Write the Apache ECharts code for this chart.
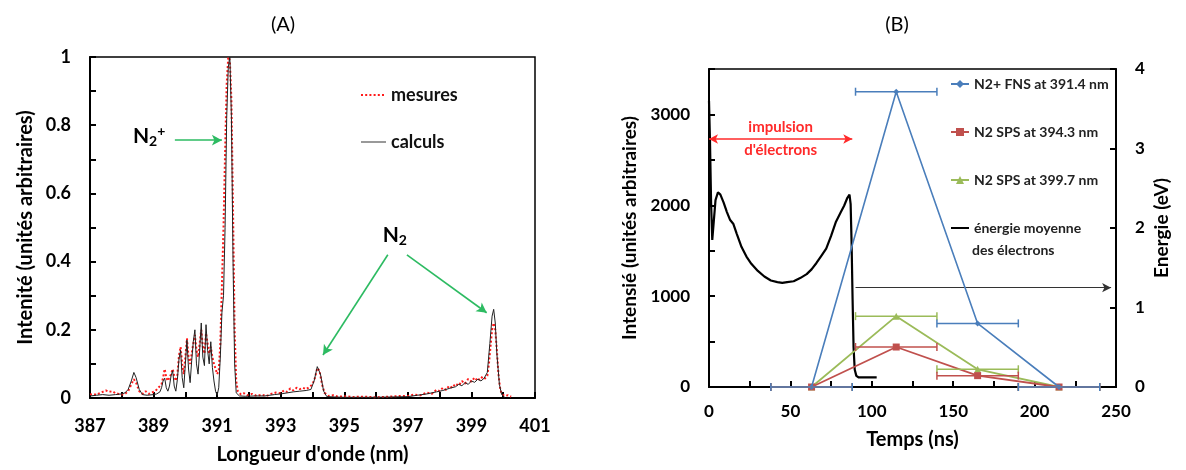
<!DOCTYPE html>
<html>
<head>
<meta charset="utf-8">
<script src="https://cdn.jsdelivr.net/npm/echarts@6/dist/echarts.min.js"></script>
<style>
  html, body { margin: 0; padding: 0; background: #fff; }
  #chart { width: 1186px; height: 470px; }
</style>
</head>
<body>
<div id="chart"></div>
<script>
// ---- (A) emission spectrum: [wavelength nm, relative intensity] ----
const measuredSpectrum = [
  [387.0,0.01],[387.1,0.012],[387.2,0.009],[387.3,0.014],[387.4,0.018],[387.5,0.022],[387.6,0.018],[387.7,0.02],
  [387.8,0.014],[387.9,0.012],[388.0,0.01],[388.1,0.012],[388.2,0.02],[388.3,0.04],[388.38,0.055],[388.45,0.045],
  [388.55,0.02],[388.65,0.012],[388.75,0.02],[388.85,0.012],[388.95,0.016],[389.05,0.02],[389.15,0.03],[389.2,0.035],
  [389.25,0.04],[389.3,0.06],[389.35,0.085],[389.4,0.06],[389.45,0.05],[389.5,0.06],[389.55,0.07],[389.6,0.085],
  [389.65,0.065],[389.7,0.05],[389.75,0.07],[389.8,0.125],[389.85,0.15],[389.9,0.1],[389.95,0.07],[390.0,0.12],
  [390.05,0.175],[390.1,0.12],[390.15,0.1],[390.2,0.13],[390.25,0.16],[390.3,0.185],[390.35,0.14],[390.4,0.12],
  [390.45,0.16],[390.5,0.2],[390.55,0.15],[390.6,0.13],[390.65,0.19],[390.7,0.16],[390.75,0.13],[390.8,0.15],
  [390.85,0.12],[390.9,0.1],[390.95,0.085],[391.0,0.07],[391.05,0.08],[391.1,0.16],[391.15,0.33],[391.2,0.5],
  [391.25,0.72],[391.3,0.92],[391.35,1.0],[391.4,0.99],[391.45,0.87],[391.5,0.55],[391.55,0.2],[391.6,0.05],
  [391.65,0.02],[391.75,0.01],[391.85,0.014],[391.95,0.008],[392.1,0.012],[392.25,0.006],[392.4,0.01],[392.55,0.006],
  [392.7,0.012],[392.85,0.016],[393.0,0.014],[393.1,0.022],[393.2,0.018],[393.3,0.028],[393.4,0.022],[393.5,0.03],
  [393.6,0.026],[393.7,0.03],[393.8,0.026],[393.9,0.032],[394.0,0.04],[394.08,0.06],[394.15,0.088],[394.22,0.08],
  [394.3,0.04],[394.38,0.015],[394.5,0.006],[394.65,0.008],[394.8,0.004],[395.0,0.005],[395.3,0.003],[395.6,0.004],
  [396.0,0.002],[396.4,0.004],[396.8,0.006],[397.0,0.006],[397.2,0.01],[397.4,0.008],[397.6,0.016],[397.75,0.012],
  [397.9,0.024],[398.0,0.02],[398.1,0.03],[398.2,0.024],[398.3,0.036],[398.4,0.03],[398.5,0.042],[398.6,0.036],
  [398.7,0.05],[398.8,0.042],[398.9,0.056],[399.0,0.048],[399.1,0.06],[399.2,0.05],[399.3,0.062],[399.4,0.055],
  [399.5,0.065],[399.55,0.1],[399.6,0.15],[399.65,0.2],[399.7,0.22],[399.75,0.2],[399.8,0.14],[399.85,0.07],
  [399.9,0.03],[399.95,0.012],[400.05,0.006],[400.15,0.008],[400.25,0.004]
];
const calculatedSpectrum = [
  [387.0,0.006],[387.2,0.008],[387.4,0.01],[387.6,0.008],[387.8,0.01],[388.0,0.012],[388.1,0.015],[388.2,0.025],
  [388.3,0.05],[388.38,0.075],[388.45,0.06],[388.55,0.025],[388.65,0.01],[388.8,0.008],[389.0,0.01],[389.1,0.012],
  [389.2,0.018],[389.25,0.03],[389.3,0.05],[389.35,0.058],[389.4,0.03],[389.45,0.02],[389.5,0.035],[389.55,0.065],
  [389.6,0.08],[389.65,0.035],[389.7,0.02],[389.75,0.055],[389.8,0.115],[389.85,0.14],[389.9,0.06],[389.95,0.03],
  [390.0,0.1],[390.05,0.17],[390.1,0.085],[390.15,0.045],[390.2,0.11],[390.25,0.165],[390.3,0.2],[390.35,0.1],
  [390.4,0.07],[390.45,0.14],[390.5,0.22],[390.55,0.12],[390.6,0.095],[390.65,0.215],[390.7,0.14],[390.75,0.1],
  [390.8,0.165],[390.85,0.09],[390.9,0.05],[390.95,0.02],[391.0,0.008],[391.05,0.03],[391.1,0.12],[391.15,0.25],
  [391.2,0.3],[391.25,0.5],[391.3,0.82],[391.35,0.97],[391.4,1.0],[391.45,0.82],[391.5,0.4],[391.55,0.1],
  [391.6,0.015],[391.7,0.006],[391.9,0.005],[392.2,0.006],[392.5,0.006],[392.8,0.01],[393.0,0.012],[393.2,0.015],
  [393.4,0.018],[393.6,0.02],[393.8,0.022],[393.95,0.025],[394.05,0.05],[394.15,0.092],[394.25,0.07],[394.35,0.02],
  [394.45,0.004],[394.7,0.003],[395.0,0.002],[395.5,0.002],[396.0,0.002],[396.5,0.003],[397.0,0.004],[397.3,0.008],
  [397.6,0.012],[397.9,0.018],[398.1,0.022],[398.3,0.028],[398.5,0.033],[398.6,0.04],[398.7,0.036],[398.8,0.045],
  [398.9,0.04],[399.0,0.05],[399.1,0.046],[399.2,0.055],[399.3,0.05],[399.4,0.058],[399.5,0.075],[399.58,0.16],
  [399.65,0.24],[399.7,0.26],[399.75,0.22],[399.8,0.13],[399.88,0.04],[399.95,0.01],[400.05,0.002]
];

// ---- (B) time-resolved intensities (ns, a.u.) and mean electron energy (eV) ----
const timeNs = [63, 115, 165, 215];
const fnsN2Plus3914 = [0, 3250, 700, 0];
const spsN2_3943 = [0, 440, 125, 0];
const spsN2_3997 = [0, 780, 195, 0];
const timeHalfWidthNs = 25;

const energyTimeNs = [0, 0.6, 1.3, 2, 3, 4, 5.5, 7, 9, 11, 13, 15, 17, 20, 23, 26, 30, 34, 38, 42,
  45, 48, 52, 56, 60, 63, 66, 69, 72, 75, 78, 81, 83, 85, 86.3, 87, 87.6, 88.2, 88.8, 89.5,
  90.5, 92, 96, 103];
const energyEv = [3.6, 3.1, 2.3, 1.85, 2.1, 2.35, 2.45, 2.42, 2.32, 2.2, 2.1, 2.05, 1.93, 1.76, 1.64, 1.55, 1.46, 1.39, 1.34, 1.32,
  1.31, 1.32, 1.33, 1.37, 1.42, 1.48, 1.56, 1.65, 1.74, 1.9, 2.08, 2.2, 2.28, 2.38, 2.42, 2.3, 1.8, 1.1, 0.5, 0.22,
  0.14, 0.12, 0.12, 0.12];

// electron pulse window (ns) and the energy-axis pointer
const electronPulseNs = [0, 88];
const electronPulseLevel = 2730;
const energyPointerNs = [90, 247];
const energyPointerEv = 1.25;

const FONT = 'Lato, "Open Sans", sans-serif';
const GREEN = '#2dbb62';
const BLUE = '#4a7ebb';
const RED = '#c0504d';
const OLIVE = '#9bbb59';

const zip = (xs, ys) => xs.map((x, i) => [x, ys[i]]);
const withErr = (xs, ys) => xs.map((x, i) => [x, ys[i], x - timeHalfWidthNs, x + timeHalfWidthNs]);

function drawErrorBar(params, api) {
  const y = api.value(1);
  const a = api.coord([api.value(2), y]);
  const b = api.coord([api.value(3), y]);
  const color = api.visual('color');
  const cap = 4;
  const st = { stroke: color, lineWidth: 1.5 };
  return {
    type: 'group',
    children: [
      { type: 'line', shape: { x1: a[0], y1: a[1], x2: b[0], y2: b[1] }, style: st },
      { type: 'line', shape: { x1: a[0], y1: a[1] - cap, x2: a[0], y2: a[1] + cap }, style: st },
      { type: 'line', shape: { x1: b[0], y1: b[1] - cap, x2: b[0], y2: b[1] + cap }, style: st }
    ]
  };
}

const axisLineStyle = { color: '#000', width: 2 };
const tickLabel = (size) => ({ fontSize: size, fontWeight: 'bold', color: '#000', fontFamily: FONT });
const axisName = (size) => ({ fontSize: size, fontWeight: 'bold', color: '#000', fontFamily: FONT });
// plain line icon in the legend (no marker)
const lineOnly = { opacity: 0, borderWidth: 0 };

const chart = echarts.init(document.getElementById('chart'), null, { renderer: 'canvas' });

chart.setOption({
  animation: false,
  backgroundColor: '#fff',
  textStyle: { fontFamily: FONT },
  grid: [
    { left: 90, top: 57, width: 445, height: 341, show: true, borderColor: '#000', borderWidth: 1.5,
      backgroundColor: 'transparent', containLabel: false, outerBoundsMode: 'none' },
    { left: 709, top: 69, width: 407, height: 318, show: true, borderColor: '#000', borderWidth: 1.5,
      backgroundColor: 'transparent', containLabel: false, outerBoundsMode: 'none' }
  ],
  legend: [
    {
      left: 360, top: 85, orient: 'vertical', padding: 0, itemGap: 27,
      itemWidth: 25, itemHeight: 14, selectedMode: false,
      textStyle: { fontSize: 18, fontWeight: 'bold', color: '#111', fontFamily: FONT, lineHeight: 20 },
      data: [
        { name: 'mesures', itemStyle: lineOnly },
        { name: 'calculs', itemStyle: lineOnly, lineStyle: { color: '#999', width: 2 } }
      ]
    },
    {
      left: 950, top: 76, orient: 'vertical', padding: 0, itemGap: 32,
      itemWidth: 18, itemHeight: 10, selectedMode: false,
      textStyle: { fontSize: 14, fontWeight: 'bold', color: '#222', fontFamily: FONT, lineHeight: 16 },
      data: [
        { name: 'N2+ FNS at 391.4 nm' },
        { name: 'N2 SPS at 394.3 nm' },
        { name: 'N2 SPS at 399.7 nm' },
        { name: 'énergie moyenne', itemStyle: lineOnly }
      ]
    }
  ],
  xAxis: [
    {
      gridIndex: 0, type: 'value', min: 387, max: 401, interval: 1,
      axisLine: { show: true, onZero: false, lineStyle: axisLineStyle },
      axisTick: { show: true, inside: true, length: 6, lineStyle: { color: '#000', width: 2 } },
      axisLabel: Object.assign(tickLabel(18), { margin: 19,
        formatter: (v) => (Math.round(v) % 2 === 1 ? String(Math.round(v)) : '') }),
      splitLine: { show: false },
      name: "Longueur d'onde (nm)", nameLocation: 'middle', nameGap: 47, nameMoveOverlap: false,
      nameTextStyle: axisName(20)
    },
    {
      gridIndex: 1, type: 'value', min: 0, max: 250, interval: 25,
      axisLine: { show: true, onZero: false, lineStyle: axisLineStyle },
      axisTick: { show: true, inside: true, length: 6, lineStyle: { color: '#000', width: 2 } },
      axisLabel: Object.assign(tickLabel(17), { margin: 16,
        formatter: (v) => (v % 50 === 0 ? String(v) : '') }),
      splitLine: { show: false },
      name: 'Temps (ns)', nameLocation: 'middle', nameGap: 43, nameMoveOverlap: false,
      nameTextStyle: axisName(20)
    }
  ],
  yAxis: [
    {
      gridIndex: 0, type: 'value', min: 0, max: 1, interval: 0.1,
      axisLine: { show: true, onZero: false, lineStyle: axisLineStyle },
      axisTick: { show: true, inside: true, length: 6, lineStyle: { color: '#000', width: 2 } },
      axisLabel: Object.assign(tickLabel(18), { margin: 19,
        formatter: (v) => {
          const k = Math.round(v * 10);
          if (k % 2 !== 0) return '';
          return k === 0 ? '0' : k === 10 ? '1' : (k / 10).toFixed(1);
        } }),
      splitLine: { show: false },
      name: 'Intenité (unités arbitraires)', nameLocation: 'middle', nameGap: 54, nameMoveOverlap: false,
      nameTextStyle: axisName(20)
    },
    {
      gridIndex: 1, type: 'value', min: 0, max: 3500, interval: 500,
      axisLine: { show: true, onZero: false, lineStyle: axisLineStyle },
      axisTick: { show: true, inside: true, length: 6, lineStyle: { color: '#000', width: 2 } },
      axisLabel: Object.assign(tickLabel(17), { margin: 19,
        formatter: (v) => (v % 1000 === 0 ? String(v) : '') }),
      splitLine: { show: false },
      name: 'Intensié (unités arbitraires)', nameLocation: 'middle', nameGap: 70, nameMoveOverlap: false,
      nameTextStyle: axisName(19)
    },
    {
      gridIndex: 1, type: 'value', position: 'right', min: 0, max: 4, interval: 1,
      axisLine: { show: true, onZero: false, lineStyle: axisLineStyle },
      axisTick: { show: true, inside: true, length: 6, lineStyle: { color: '#000', width: 2 } },
      axisLabel: Object.assign(tickLabel(17), { margin: 19 }),
      splitLine: { show: false },
      name: 'Energie (eV)', nameLocation: 'middle', nameGap: 36, nameMoveOverlap: false,
      nameTextStyle: axisName(19)
    }
  ],
  series: [
    // ---- (A) ----
    {
      name: 'mesures', type: 'line', xAxisIndex: 0, yAxisIndex: 0,
      data: measuredSpectrum, symbol: 'none', showSymbol: false, z: 2,
      itemStyle: { color: '#ff1a1a' },
      lineStyle: { color: '#ff1a1a', width: 2, type: [2, 2.2] }
    },
    {
      name: 'calculs', type: 'line', xAxisIndex: 0, yAxisIndex: 0,
      data: calculatedSpectrum, symbol: 'none', showSymbol: false, z: 3,
      itemStyle: { color: '#222' },
      lineStyle: { color: '#222', width: 1 },
      markLine: {
        silent: true, animation: false, symbol: ['none', 'arrow'], symbolSize: [8, 10],
        lineStyle: { color: GREEN, width: 1.6, type: 'solid' },
        label: { show: false },
        data: [
          [{ coord: [389.67, 0.756] }, { coord: [391.15, 0.756] }],
          [{ coord: [396.37, 0.42] }, { coord: [394.33, 0.126] }],
          [{ coord: [396.97, 0.42] }, { coord: [399.48, 0.25] }]
        ]
      },
      markPoint: {
        silent: true, animation: false, symbol: 'rect', symbolSize: 1,
        itemStyle: { color: 'rgba(0,0,0,0)' },
        label: {
          show: true, position: 'inside', color: '#000',
          rich: {
            n: { fontSize: 21, fontWeight: 'bold', color: '#000', fontFamily: FONT, lineHeight: 24, verticalAlign: 'middle' },
            s: { fontSize: 14, fontWeight: 'bold', color: '#000', fontFamily: FONT, lineHeight: 14, verticalAlign: 'bottom' },
            p: { fontSize: 14, fontWeight: 'bold', color: '#000', fontFamily: FONT, lineHeight: 14, verticalAlign: 'top' }
          }
        },
        data: [
          { coord: [388.86, 0.768], label: { formatter: '{n|N}{s|2}{p|+}' } },
          { coord: [396.59, 0.476], label: { formatter: '{n|N}{s|2}' } }
        ]
      }
    },
    // ---- (B) ----
    {
      name: 'énergie moyenne', type: 'line', xAxisIndex: 1, yAxisIndex: 2,
      data: zip(energyTimeNs, energyEv), symbol: 'none', showSymbol: false, z: 3,
      itemStyle: { color: '#000' },
      lineStyle: { color: '#000', width: 2.2 },
      markLine: {
        silent: true, animation: false, symbol: ['none', 'arrow'], symbolSize: [7, 9],
        lineStyle: { color: '#333', width: 1.2, type: 'solid' },
        label: { show: false },
        data: [[{ coord: [energyPointerNs[0], energyPointerEv] }, { coord: [energyPointerNs[1], energyPointerEv] }]]
      }
    },
    {
      name: 'N2 SPS at 399.7 nm', type: 'line', xAxisIndex: 1, yAxisIndex: 1,
      data: zip(timeNs, spsN2_3997), symbol: 'triangle', symbolSize: 7, z: 4,
      itemStyle: { color: OLIVE }, lineStyle: { color: OLIVE, width: 1.8 }
    },
    {
      name: 'N2 SPS at 394.3 nm', type: 'line', xAxisIndex: 1, yAxisIndex: 1,
      data: zip(timeNs, spsN2_3943), symbol: 'rect', symbolSize: 7, z: 5,
      itemStyle: { color: RED }, lineStyle: { color: RED, width: 1.8 }
    },
    {
      name: 'N2+ FNS at 391.4 nm', type: 'line', xAxisIndex: 1, yAxisIndex: 1,
      data: zip(timeNs, fnsN2Plus3914), symbol: 'diamond', symbolSize: 6, z: 6,
      itemStyle: { color: BLUE }, lineStyle: { color: BLUE, width: 1.6 },
      markLine: {
        silent: true, animation: false, symbol: ['arrow', 'arrow'], symbolSize: [7, 9],
        lineStyle: { color: '#ff2a2a', width: 1.6, type: 'solid' },
        label: { show: false },
        data: [[{ coord: [electronPulseNs[0], electronPulseLevel] }, { coord: [electronPulseNs[1], electronPulseLevel] }]]
      },
      markPoint: {
        silent: true, animation: false, symbol: 'rect', symbolSize: 1,
        itemStyle: { color: 'rgba(0,0,0,0)' },
        label: {
          show: true, position: 'inside', color: '#ff2a2a', fontSize: 15, fontWeight: 'bold',
          fontFamily: FONT, lineHeight: 23, align: 'center',
          formatter: "impulsion\nd'électrons"
        },
        data: [{ coord: [(electronPulseNs[0] + electronPulseNs[1]) / 2, electronPulseLevel] }]
      }
    },
    {
      type: 'custom', xAxisIndex: 1, yAxisIndex: 1, renderItem: drawErrorBar, z: 7,
      itemStyle: { color: OLIVE }, encode: { x: [0, 2, 3], y: 1 }, silent: true,
      data: withErr(timeNs, spsN2_3997)
    },
    {
      type: 'custom', xAxisIndex: 1, yAxisIndex: 1, renderItem: drawErrorBar, z: 8,
      itemStyle: { color: RED }, encode: { x: [0, 2, 3], y: 1 }, silent: true,
      data: withErr(timeNs, spsN2_3943)
    },
    {
      type: 'custom', xAxisIndex: 1, yAxisIndex: 1, renderItem: drawErrorBar, z: 9,
      itemStyle: { color: BLUE }, encode: { x: [0, 2, 3], y: 1 }, silent: true,
      data: withErr(timeNs, fnsN2Plus3914)
    }
  ],
  graphic: [
    { type: 'text', x: 283, y: 25, silent: true,
      style: { text: '(A)', fontSize: 20, fontFamily: FONT, fill: '#000', align: 'center', verticalAlign: 'middle' } },
    { type: 'text', x: 897, y: 25, silent: true,
      style: { text: '(B)', fontSize: 20, fontFamily: FONT, fill: '#000', align: 'center', verticalAlign: 'middle' } },
    { type: 'text', x: 972, y: 250, silent: true,
      style: { text: 'des électrons', fontSize: 14, fontWeight: 'bold', fontFamily: FONT, fill: '#222', align: 'left', verticalAlign: 'middle' } }
  ]
});
</script>
</body>
</html>
